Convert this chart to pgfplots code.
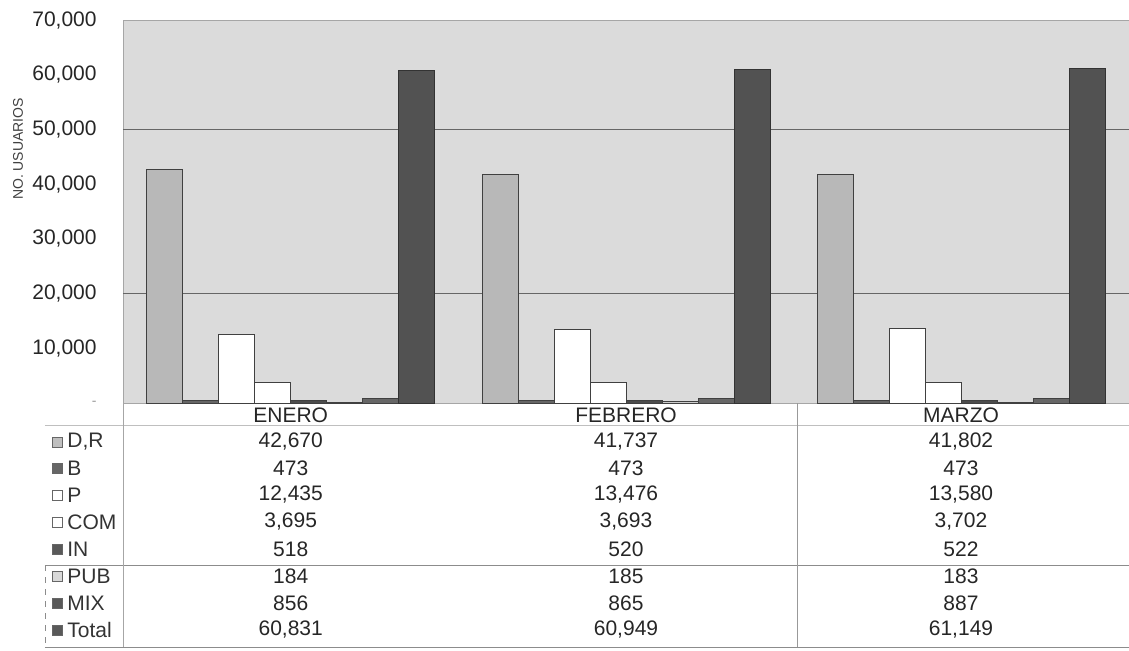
\documentclass[border=0pt]{standalone}
\usepackage{pgfplots}
\pgfplotsset{compat=1.18}
\usepackage{fontspec}
\setmainfont{Liberation Sans}
\begin{document}
\fontsize{10.5}{12}\selectfont
\begin{tikzpicture}
\path[use as bounding box] (-61.5pt,-123.5pt) rectangle (503pt,201.5pt);
\begin{axis}[
  at={(0,0)}, anchor=south west,
  scale only axis, width=503pt, height=191.5pt,
  xmin=-0.5, xmax=2.5, ymin=0, ymax=70000,
  ybar=0pt, bar width=18pt,
  scaled ticks=false,
  axis background/.style={fill=black!14},
  axis line style={draw=black!35, line width=0.4pt},
  xtick=\empty,
  ytick={0,10000,20000,30000,40000,50000,60000,70000},
  yticklabels={{\textcolor{black!40}{\scriptsize -}},{10,000},{20,000},{30,000},{40,000},{50,000},{60,000},{70,000}},
  major tick length=0pt,
  yticklabel style={anchor=east, inner sep=0pt, xshift=-13pt, text=black!85, font=\fontsize{10.5}{12}\selectfont},
  extra y ticks={20000,50000},
  extra y tick labels={},
  extra tick style={grid=major, major grid style={black!60, line width=0.7pt}},
  clip=false,
  /pgf/number format/assume math mode=true,
]
\addplot[fill=black!28, draw=black!75, line width=0.5pt] coordinates {(0,42670) (1,41737) (2,41802)};
\addplot[fill=black!60, draw=black!75, line width=0.5pt] coordinates {(0,473) (1,473) (2,473)};
\addplot[fill=white, draw=black!75, line width=0.5pt] coordinates {(0,12435) (1,13476) (2,13580)};
\addplot[fill=white, draw=black!75, line width=0.5pt] coordinates {(0,3695) (1,3693) (2,3702)};
\addplot[fill=black!70, draw=black!75, line width=0.5pt] coordinates {(0,518) (1,520) (2,522)};
\addplot[fill=black!20, draw=black!75, line width=0.5pt] coordinates {(0,184) (1,185) (2,183)};
\addplot[fill=black!60, draw=black!75, line width=0.5pt] coordinates {(0,856) (1,865) (2,887)};
\addplot[fill=black!68, draw=black!80, line width=0.5pt] coordinates {(0,60831) (1,60949) (2,61149)};
\end{axis}
% y label
\node[rotate=90, font=\fontsize{7}{8}\selectfont, text=black!75] at (-52.5pt,127pt) {NO. USUARIOS};
% table lines
\draw[black!25, line width=0.4pt] (-39pt,-11pt) -- (503pt,-11pt);
\draw[black!45, line width=0.5pt] (-39pt,-81pt) -- (503pt,-81pt);
\draw[black!45, line width=0.5pt] (-39pt,-122pt) -- (503pt,-122pt);
\draw[black!35, line width=0.4pt] (0pt,0pt) -- (0pt,-122pt);
\draw[black!40, line width=0.5pt] (337pt,0pt) -- (337pt,-122pt);
\draw[black!45, line width=0.4pt, dashed] (-39pt,-81pt) -- (-39pt,-122pt);
% column headers and values
\foreach \x/\m in {83.85/ENERO, 251.5/FEBRERO, 419/MARZO}
  \node[text=black!85] at (\x pt,-6pt) {\m};
\foreach \x/\a/\b/\c/\d/\e/\f/\g/\h in {
  83.85/{42,670}/473/{12,435}/{3,695}/518/184/856/{60,831},
  251.5/{41,737}/473/{13,476}/{3,693}/520/185/865/{60,949},
  419/{41,802}/473/{13,580}/{3,702}/522/183/887/{61,149}}{
  \node[text=black!85] at (\x pt,-19.5pt) {\a};
  \node[text=black!85] at (\x pt,-32.75pt) {\b};
  \node[text=black!85] at (\x pt,-46pt) {\c};
  \node[text=black!85] at (\x pt,-59.5pt) {\d};
  \node[text=black!85] at (\x pt,-73pt) {\e};
  \node[text=black!85] at (\x pt,-86.5pt) {\f};
  \node[text=black!85] at (\x pt,-100pt) {\g};
  \node[text=black!85] at (\x pt,-113.5pt) {\h};
}
% legend keys
\foreach \y/\col/\lab in {-19.5/black!25/{D,R}, -32.75/black!60/B, -46/white/P, -59.5/white/COM, -73/black!65/IN, -86.5/black!15/PUB, -100/black!65/MIX, -113.5/black!65/Total}{
  \draw[black!60, fill=\col, line width=0.4pt] (-35.5pt,\y pt-2.5pt) rectangle (-30.5pt,\y pt+2.5pt);
  \node[anchor=west, inner sep=0pt, text=black!80] at (-28pt,\y pt) {\lab};
}
\end{tikzpicture}
\end{document}
